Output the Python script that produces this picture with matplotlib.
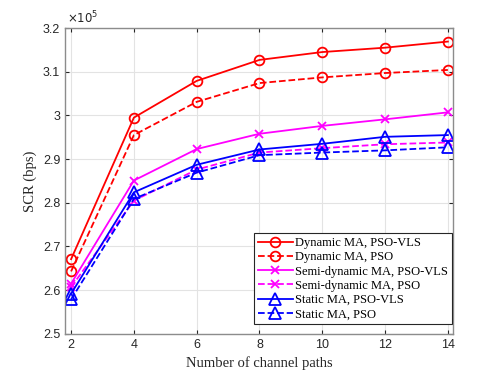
import matplotlib.pyplot as plt

# number of channel paths
paths = [2, 4, 6, 8, 10, 12, 14]

# SCR values (x 1e5 bps)
dyn_vls = [2.671, 2.995, 3.079, 3.127, 3.145, 3.155, 3.169]
dyn_pso = [2.643, 2.955, 3.031, 3.074, 3.087, 3.097, 3.104]
semi_vls = [2.615, 2.851, 2.923, 2.958, 2.976, 2.991, 3.007]
semi_pso = [2.607, 2.805, 2.876, 2.915, 2.925, 2.934, 2.938]
static_vls = [2.592, 2.824, 2.887, 2.922, 2.935, 2.951, 2.955]
static_pso = [2.579, 2.809, 2.869, 2.909, 2.915, 2.920, 2.927]

labels = ['Dynamic MA, PSO-VLS', 'Dynamic MA, PSO',
          'Semi-dynamic MA, PSO-VLS', 'Semi-dynamic MA, PSO',
          'Static MA, PSO-VLS', 'Static MA, PSO']

fig = plt.figure(figsize=(5.01, 3.76), dpi=100)
ax = fig.add_axes([0.13, 0.112, 0.774, 0.8135])

lw = 1.3
ax.plot(paths, dyn_vls, color='#ff0000', ls='-', marker='o', ms=7, mfc='none', mew=1.3, lw=lw, label=labels[0])
ax.plot(paths, dyn_pso, color='#ff0000', ls='--', marker='o', ms=7, mfc='none', mew=1.3, lw=lw, label=labels[1])
ax.plot(paths, semi_vls, color='#ff00ff', ls='-', marker='x', ms=6, mew=1.3, lw=lw, label=labels[2])
ax.plot(paths, semi_pso, color='#ff00ff', ls='--', marker='x', ms=6, mew=1.3, lw=lw, label=labels[3])
ax.plot(paths, static_vls, color='#0000ff', ls='-', marker='^', ms=8, mfc='none', mew=1.3, lw=lw, label=labels[4])
ax.plot(paths, static_pso, color='#0000ff', ls='--', marker='^', ms=8, mfc='none', mew=1.3, lw=lw, label=labels[5])

ax.set_xlim(1.81, 14.16)
ax.set_ylim(2.5, 3.2)
ax.set_xticks(paths)
ax.set_yticks([2.5, 2.6, 2.7, 2.8, 2.9, 3.0, 3.1, 3.2])
ax.set_yticklabels(['2.5', '2.6', '2.7', '2.8', '2.9', '3', '3.1', '3.2'])
ax.tick_params(direction='in', length=3, labelsize=9, colors='#262626',
               top=True, right=True)
for lab in ax.get_xticklabels() + ax.get_yticklabels():
    lab.set_family('Liberation Sans')
for s in ax.spines.values():
    s.set_color('#8c8c8c')
    s.set_linewidth(1.0)
ax.grid(True, color='#e3e3e3', lw=0.8)
ax.set_axisbelow(True)

ax.set_xlabel('Number of channel paths', family='Liberation Serif', fontsize=10.5, color='#262626')
ax.set_ylabel('SCR (bps)', family='Liberation Serif', fontsize=10.5, color='#262626')
ax.text(0.005, 1.004, r'$\times10^5$', transform=ax.transAxes, fontsize=8.5,
        color='#262626', va='bottom', ha='left')

leg = ax.legend(loc='lower right', bbox_to_anchor=(452 / 501, 1 - 324 / 376),
                bbox_transform=fig.transFigure,
                prop={'family': 'Liberation Serif', 'size': 9},
                handlelength=2.8, fancybox=False, framealpha=1, edgecolor='#262626',
                borderpad=0.3, labelspacing=0.18, handletextpad=0.2,
                borderaxespad=0)
leg.get_frame().set_linewidth(0.8)

fig.savefig('out.png', dpi=100)
